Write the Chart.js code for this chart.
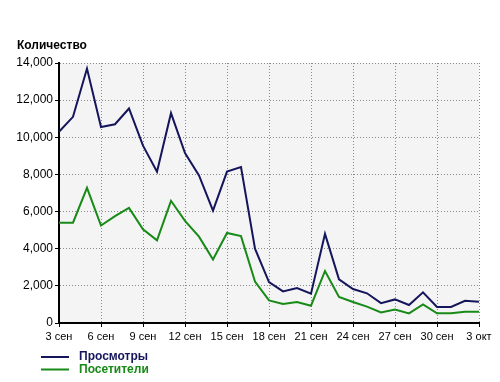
<!DOCTYPE html>
<html>
<head>
<meta charset="utf-8">
<script src="https://cdn.jsdelivr.net/npm/chart.js@4"></script>
<style>
  html, body { margin: 0; padding: 0; background: #fff; }
</style>
</head>
<body>
<canvas id="myChart" width="500" height="382"></canvas>
<script>
// days 3 сен .. 3 окт
var days = ["3 сен","4 сен","5 сен","6 сен","7 сен","8 сен","9 сен","10 сен","11 сен","12 сен",
  "13 сен","14 сен","15 сен","16 сен","17 сен","18 сен","19 сен","20 сен","21 сен","22 сен",
  "23 сен","24 сен","25 сен","26 сен","27 сен","28 сен","29 сен","30 сен","1 окт","2 окт","3 окт"];
var views = [10300, 11100, 13700, 10550, 10700, 11550, 9550, 8150, 11300, 9150,
  7950, 6050, 8150, 8400, 4000, 2200, 1700, 1880, 1580, 4800,
  2350, 1830, 1600, 1070, 1270, 970, 1650, 860, 860, 1200, 1150];
var visitors = [5400, 5400, 7280, 5250, 5750, 6200, 5050, 4450, 6580, 5500,
  4650, 3420, 4850, 4680, 2230, 1220, 1020, 1130, 930, 2800,
  1400, 1130, 880, 570, 730, 520, 1000, 520, 520, 610, 610];
var seriesNames = ["Просмотры", "Посетители"];
var lineColors = ["#15155c", "#178a17"];
var yTitle = "Количество";

var extras = {
  id: "extras",
  beforeDraw(chart) {
    var a = chart.chartArea, c = chart.ctx;
    c.save();
    c.fillStyle = "#f4f4f4";
    c.fillRect(a.left, a.top, a.right - a.left, a.bottom - a.top);
    c.restore();
  },
  afterDraw(chart) {
    var c = chart.ctx;
    c.save();
    c.font = "bold 12px 'Liberation Sans', Arial, sans-serif";
    c.fillStyle = "#000";
    c.textBaseline = "middle";
    c.fillText(yTitle, 17, 46);
    // legend
    chart.data.datasets.forEach(function (ds, i) {
      var y = 357 + i * 12.5;
      c.strokeStyle = ds.borderColor;
      c.lineWidth = 2;
      c.beginPath();
      c.moveTo(41, y);
      c.lineTo(69, y);
      c.stroke();
      c.fillStyle = ds.borderColor;
      c.font = "bold 12px 'Liberation Sans', Arial, sans-serif";
      c.fillText(ds.label, 79, y);
    });
    c.restore();
  }
};

var ctx = document.getElementById("myChart");
var myChart = new Chart(ctx, {
  type: "line",
  data: {
    labels: days,
    datasets: [
      { label: seriesNames[0], data: views, borderColor: lineColors[0], borderWidth: 2, pointRadius: 0, tension: 0, fill: false },
      { label: seriesNames[1], data: visitors, borderColor: lineColors[1], borderWidth: 2, pointRadius: 0, tension: 0, fill: false }
    ]
  },
  options: {
    responsive: false,
    animation: false,
    layout: { padding: { top: 63, right: 21, left: 0, bottom: 0 } },
    plugins: { legend: { display: false }, tooltip: { enabled: false } },
    scales: {
      x: {
        offset: false,
        afterFit(scale) { scale.height = 59; },
        grid: {
          color(c) { return c.index % 3 === 0 ? "#8a8a8a" : "rgba(0,0,0,0)"; },
          tickColor(c) { return c.index % 3 === 0 ? "#000" : "rgba(0,0,0,0)"; },
          tickLength: 4,
          tickBorderDash: [],
          lineWidth: 1
        },
        border: { display: true, color: "#000", width: 2, dash: [1, 2] },
        ticks: {
          autoSkip: false,
          maxRotation: 0,
          padding: 3,
          color: "#000",
          font: { family: "'Liberation Sans', Arial, sans-serif", size: 11 },
          callback(v, i) { return i % 3 === 0 ? days[i] : ""; }
        }
      },
      y: {
        min: 0,
        max: 14000,
        afterFit(scale) { scale.width = 59; },
        grid: { color: "#8a8a8a", tickColor: "#000", tickLength: 4, tickBorderDash: [], lineWidth: 1 },
        border: { display: true, color: "#000", width: 2, dash: [1, 2] },
        ticks: {
          stepSize: 2000,
          padding: 2,
          color: "#000",
          font: { family: "'Liberation Sans', Arial, sans-serif", size: 12 },
          callback(v) { return v.toLocaleString("en-US"); }
        }
      }
    }
  },
  plugins: [extras]
});
</script>
</body>
</html>
